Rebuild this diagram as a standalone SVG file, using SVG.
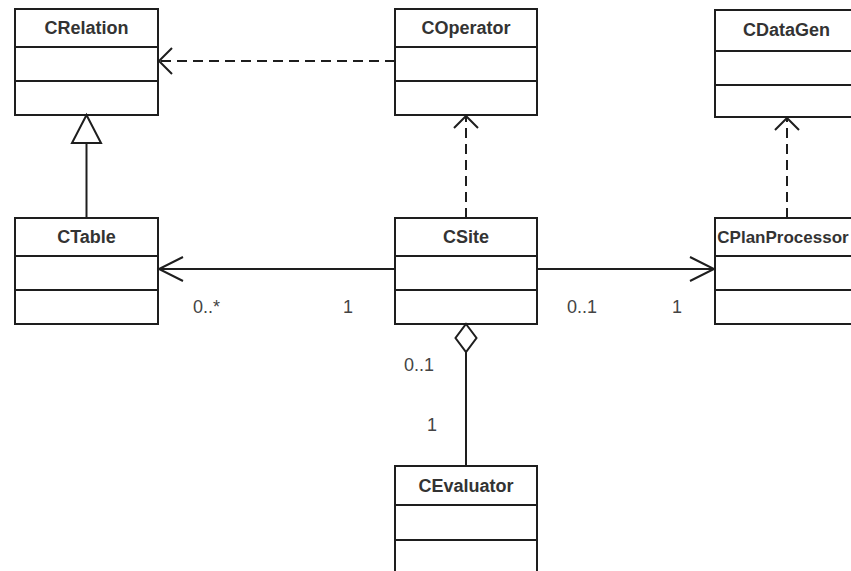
<svg xmlns="http://www.w3.org/2000/svg" width="851" height="571" viewBox="0 0 851 571">
<style>
.box{fill:#fff;stroke:#1e1e1e;stroke-width:2}
.div{stroke:#1e1e1e;stroke-width:2}
.name{font-family:"Liberation Sans",Arial,sans-serif;font-weight:bold;font-size:18px;fill:#333;text-anchor:middle}
.lbl{font-family:"Liberation Sans",Arial,sans-serif;font-size:18px;fill:#444}
.ln{fill:none;stroke:#1e1e1e;stroke-width:2}
.dash{stroke-dasharray:10 6}
</style>
<rect width="851" height="571" fill="#fff"/>
<g id="CRelation">
<rect class="box" x="15" y="9" width="143" height="106"/>
<line class="div" x1="15" y1="47" x2="158" y2="47"/>
<line class="div" x1="15" y1="81" x2="158" y2="81"/>
<text class="name" x="86.5" y="34">CRelation</text>
</g>
<g id="COperator">
<rect class="box" x="395" y="9" width="142" height="106"/>
<line class="div" x1="395" y1="47" x2="537" y2="47"/>
<line class="div" x1="395" y1="81" x2="537" y2="81"/>
<text class="name" x="466" y="34">COperator</text>
</g>
<g id="CDataGen">
<rect class="box" x="715" y="10" width="145" height="107"/>
<line class="div" x1="715" y1="51" x2="860" y2="51"/>
<line class="div" x1="715" y1="85" x2="860" y2="85"/>
<text class="name" x="786.5" y="36">CDataGen</text>
</g>
<g id="CTable">
<rect class="box" x="15" y="218" width="143" height="106"/>
<line class="div" x1="15" y1="256" x2="158" y2="256"/>
<line class="div" x1="15" y1="290" x2="158" y2="290"/>
<text class="name" x="86.5" y="243">CTable</text>
</g>
<g id="CSite">
<rect class="box" x="395" y="218" width="142" height="106"/>
<line class="div" x1="395" y1="256" x2="537" y2="256"/>
<line class="div" x1="395" y1="290" x2="537" y2="290"/>
<text class="name" x="466" y="243">CSite</text>
</g>
<g id="CPlanProcessor">
<rect class="box" x="715" y="218" width="145" height="106"/>
<line class="div" x1="715" y1="256" x2="860" y2="256"/>
<line class="div" x1="715" y1="290" x2="860" y2="290"/>
<text class="name" x="783" y="243" style="font-size:17px">CPlanProcessor</text>
</g>
<g id="CEvaluator">
<rect class="box" x="395" y="466" width="142" height="110"/>
<line class="div" x1="395" y1="505" x2="537" y2="505"/>
<line class="div" x1="395" y1="540" x2="537" y2="540"/>
<text class="name" x="466" y="492">CEvaluator</text>
</g>
<g id="connectors">
<line class="ln dash" x1="395" y1="61" x2="159" y2="61"/>
<polyline class="ln" points="172,48 159,61 172,74"/>
<line class="ln" x1="86.5" y1="143" x2="86.5" y2="218"/>
<polygon class="ln" points="86.5,115 72,143 101,143" fill="#fff"/>
<line class="ln dash" x1="466" y1="218" x2="466" y2="116"/>
<polyline class="ln" points="454,128 466,116 478,128"/>
<line class="ln dash" x1="787" y1="218" x2="787" y2="118"/>
<polyline class="ln" points="775,130 787,118 799,130"/>
<line class="ln" x1="395" y1="269" x2="159" y2="269"/>
<polyline class="ln" points="183,257 159,269 183,281"/>
<line class="ln" x1="537" y1="269" x2="714" y2="269"/>
<polyline class="ln" points="690,257 714,269 690,281"/>
<line class="ln" x1="466" y1="352" x2="466" y2="466"/>
<polygon class="ln" points="466,324 476.5,338 466,352 455.5,338" fill="#fff"/>
</g>
<g id="labels">
<text class="lbl" x="193" y="313">0..*</text>
<text class="lbl" x="343" y="313">1</text>
<text class="lbl" x="567" y="313">0..1</text>
<text class="lbl" x="672" y="313">1</text>
<text class="lbl" x="404" y="371">0..1</text>
<text class="lbl" x="427" y="431">1</text>
</g>
</svg>
